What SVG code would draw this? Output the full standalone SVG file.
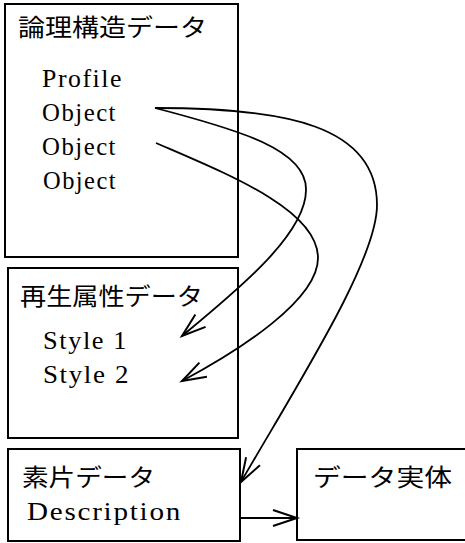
<svg xmlns="http://www.w3.org/2000/svg" width="465" height="543" viewBox="0 0 465 543">
<style>
.box{fill:none;stroke:#000;stroke-width:2}
.jp{font-family:"Noto Sans CJK JP","Noto Sans",sans-serif;font-size:24px;fill:#000}
.en{font-family:"Liberation Serif","Times New Roman",serif;font-size:25px;letter-spacing:1.5px;fill:#000}
.con{fill:none;stroke:#000;stroke-width:1.8}
</style>
<defs>
<marker id="arr" markerUnits="userSpaceOnUse" markerWidth="40" markerHeight="40" refX="0" refY="0" viewBox="-30 -15 40 30" orient="auto">
<path d="M-24,-8 L0,0 L-24,8" fill="none" stroke="#000" stroke-width="2"/>
</marker>
</defs>
<rect width="465" height="543" fill="#fff"/>
<g id="logical">
<rect class="box" x="5" y="4" width="233" height="253"/>
<text class="jp" x="18" y="36" textLength="189" lengthAdjust="spacingAndGlyphs">論理構造データ</text>
<text class="en" x="42" y="87" textLength="81" lengthAdjust="spacingAndGlyphs">Profile</text>
<text class="en" x="42" y="121" textLength="75" lengthAdjust="spacingAndGlyphs">Object</text>
<text class="en" x="42" y="155" textLength="75" lengthAdjust="spacingAndGlyphs">Object</text>
<text class="en" x="43" y="189" textLength="74" lengthAdjust="spacingAndGlyphs">Object</text>
</g>
<g id="style">
<rect class="box" x="8" y="268" width="230" height="170"/>
<text class="jp" x="20" y="305" textLength="183" lengthAdjust="spacingAndGlyphs">再生属性データ</text>
<text class="en" x="43" y="349" textLength="85" lengthAdjust="spacingAndGlyphs">Style 1</text>
<text class="en" x="43" y="383" textLength="87" lengthAdjust="spacingAndGlyphs">Style 2</text>
</g>
<g id="fragment">
<rect class="box" x="8" y="449" width="232" height="92"/>
<text class="jp" x="22" y="486" textLength="133" lengthAdjust="spacingAndGlyphs">素片データ</text>
<text class="en" x="27" y="520" textLength="155" lengthAdjust="spacingAndGlyphs">Description</text>
</g>
<g id="entity">
<rect class="box" x="297" y="449" width="175" height="91"/>
<text class="jp" x="313" y="486" textLength="139" lengthAdjust="spacingAndGlyphs">データ実体</text>
</g>
<g id="connectors">
<path class="con" d="M155,108 C285,108 377,125 377,205 C377,260 300,380 241,482" marker-end="url(#arr)"/>
<path class="con" d="M155,108 C240,130 307,150 306,190 C306,235 235,292 182,336" marker-end="url(#arr)"/>
<path class="con" d="M156,143 C230,175 318,210 318,258 C318,300 240,350 182,381" marker-end="url(#arr)"/>
<path class="con" d="M240,518 L297,518" marker-end="url(#arr)"/>
</g>
</svg>
